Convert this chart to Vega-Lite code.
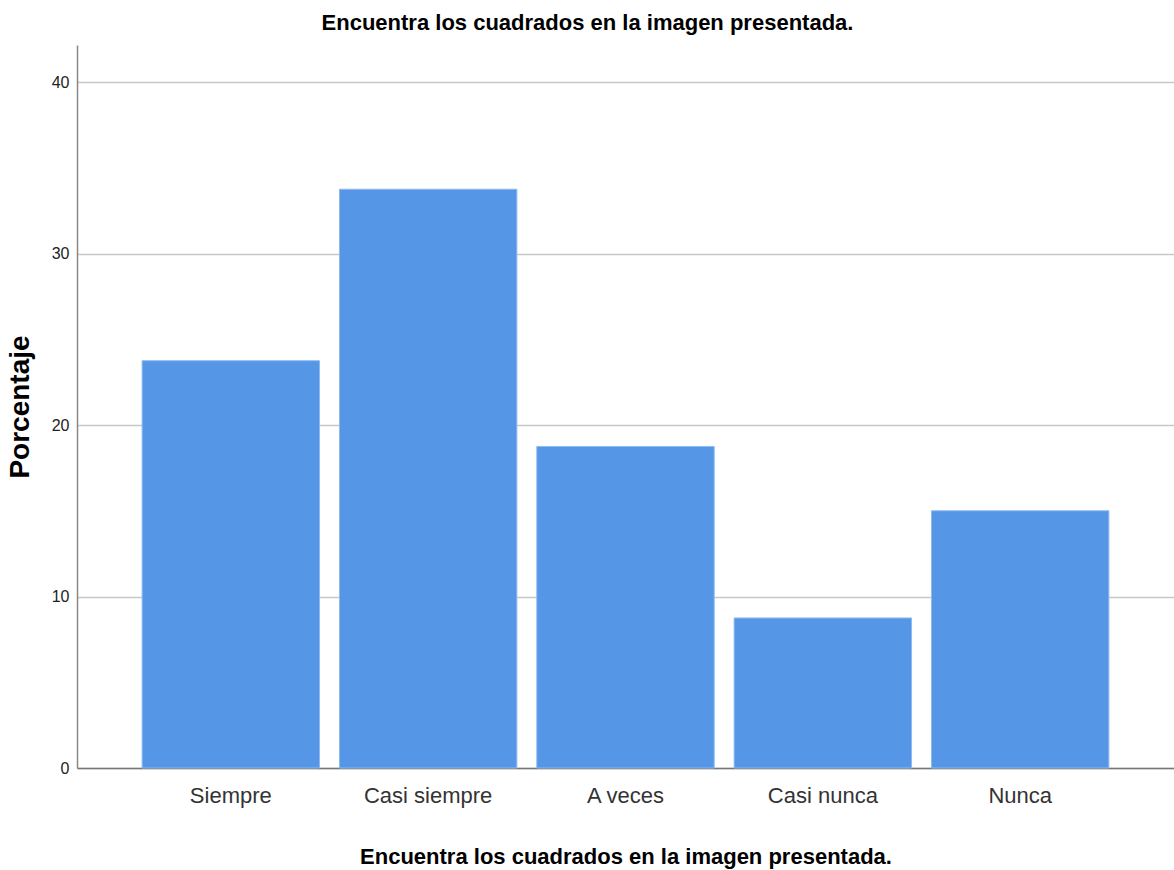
{
  "$schema": "https://vega.github.io/schema/vega-lite/v6.json",
  "autosize": {"type": "none"},
  "padding": {"left": 77, "top": 45, "right": 0, "bottom": 102},
  "width": 1097,
  "height": 723,
  "background": "white",
  "title": {
    "text": "Encuentra los cuadrados en la imagen presentada.",
    "fontSize": 22,
    "fontWeight": "bold",
    "font": "Liberation Sans, Arial",
    "color": "#000000",
    "anchor": "middle",
    "dx": -38,
    "offset": 10
  },
  "data": {
    "values": [
      {"categoria": "Siempre", "porcentaje": 23.75},
      {"categoria": "Casi siempre", "porcentaje": 33.75},
      {"categoria": "A veces", "porcentaje": 18.75},
      {"categoria": "Casi nunca", "porcentaje": 8.75},
      {"categoria": "Nunca", "porcentaje": 15.0}
    ]
  },
  "mark": {"type": "bar", "color": "#5596e6", "stroke": "#8fbaf0", "strokeWidth": 1},
  "encoding": {
    "x": {
      "field": "categoria",
      "type": "nominal",
      "sort": null,
      "scale": {"paddingInner": 0.101, "paddingOuter": 0.33},
      "axis": {
        "title": "Encuentra los cuadrados en la imagen presentada.",
        "titleFontSize": 22,
        "titleFontWeight": "bold",
        "titleFont": "Liberation Sans, Arial",
        "titleColor": "#000000",
        "titlePadding": 40,
        "labelAngle": 0,
        "labelFontSize": 22,
        "labelFont": "Liberation Sans, Arial",
        "labelColor": "#333333",
        "labelPadding": 17,
        "ticks": false,
        "domainColor": "#777777",
        "domainWidth": 1.5,
        "grid": false
      }
    },
    "y": {
      "field": "porcentaje",
      "type": "quantitative",
      "scale": {"domain": [0, 42.16], "nice": false},
      "axis": {
        "title": "Porcentaje",
        "values": [0, 10, 20, 30, 40],
        "titleFontSize": 28,
        "titleFontWeight": "bold",
        "titleFont": "Liberation Sans, Arial",
        "titleColor": "#000000",
        "titlePadding": 17,
        "labelFontSize": 16,
        "labelFont": "Liberation Sans, Arial",
        "labelColor": "#222222",
        "labelPadding": 8,
        "ticks": false,
        "domainColor": "#888888",
        "domainWidth": 1.5,
        "grid": true,
        "gridColor": "#c8c8c8",
        "gridWidth": 1.5
      }
    }
  },
  "config": {"view": {"stroke": null}}
}
